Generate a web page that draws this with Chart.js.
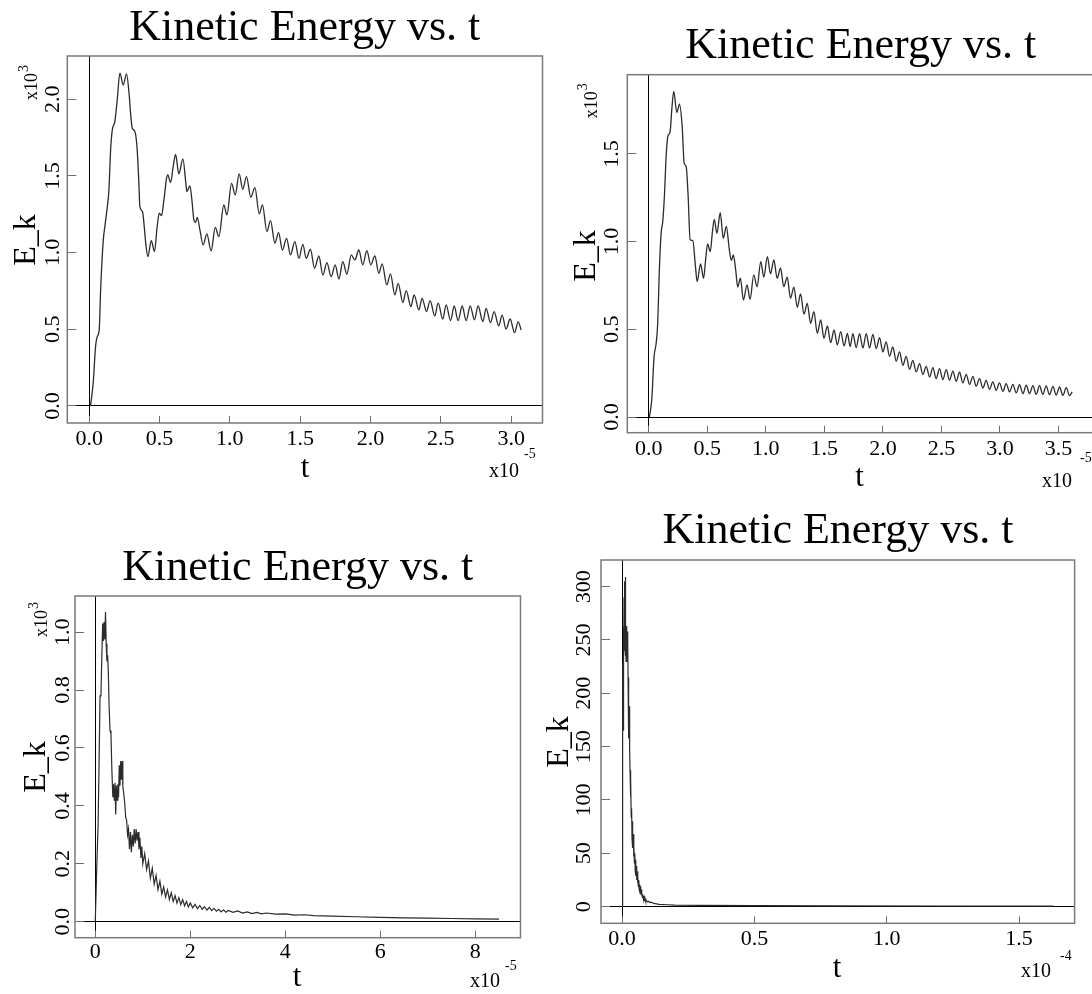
<!DOCTYPE html>
<html>
<head>
<meta charset="utf-8">
<script src="https://cdn.jsdelivr.net/npm/chart.js@4.4.1/dist/chart.umd.min.js"></script>
<style>
html, body { margin: 0; padding: 0; background: #fff; overflow: hidden; width: 1092px; height: 994px; }
canvas { position: absolute; }
</style>
</head>
<body>
<canvas id="c1" width="546" height="490" style="left:0px;top:0px"></canvas>
<canvas id="c2" width="554" height="490" style="left:546px;top:0px"></canvas>
<canvas id="c3" width="546" height="497" style="left:0px;top:497px"></canvas>
<canvas id="c4" width="546" height="497" style="left:546px;top:497px"></canvas>
<script>
// run 1: t in units of 1e-5, E_k in units of 1e3
var t1 = [
  0.009,0.028,0.045,0.057,0.071,0.081,0.100,0.111,0.123,0.140,
  0.152,0.164,0.182,0.199,0.218,0.242,0.265,0.284,0.296,0.306,
  0.325,0.341,0.353,0.360,0.379,0.391,0.403,0.417,0.441,0.464,
  0.483,0.498,0.514,0.531,0.550,0.559,0.578,0.597,0.614,0.637,
  0.666,0.687,0.694,0.716,0.730,0.744,0.756,0.768,0.787,0.810,
  0.836,0.867,0.896,0.922,0.957,0.979,1.012,1.038,1.066,1.092,
  1.118,1.149,1.178,1.209,1.232,1.263,1.289,1.320,1.346,1.374,
  1.403,1.431,1.462,1.491,1.519,1.543,1.573,1.602,1.633,1.661,
  1.690,1.720,1.749,1.775,1.803,1.832,1.863,1.889,1.917,1.945,
  1.974,2.002,2.031,2.059,2.083,2.116,2.142,2.173,2.197,2.230,
  2.254,2.287,2.310,2.344,2.367,2.398,2.424,2.457,2.481,2.514,
  2.538,2.569,2.595,2.623,2.652,2.680,2.709,2.739,2.765,2.799,
  2.822,2.853,2.879,2.912,2.936,2.964,2.993,3.024,3.050,3.071
];
var e1 = [
  0.000,0.148,0.387,0.452,0.496,0.757,1.083,1.170,1.257,1.409,
  1.670,1.800,1.854,1.996,2.170,2.093,2.165,2.028,1.887,1.811,
  1.789,1.670,1.452,1.300,1.267,1.170,1.050,0.974,1.078,1.007,
  1.170,1.257,1.241,1.343,1.485,1.507,1.457,1.561,1.641,1.513,
  1.611,1.452,1.398,1.435,1.343,1.213,1.196,1.230,1.148,1.050,
  1.122,1.011,1.165,1.104,1.311,1.246,1.452,1.376,1.513,1.413,
  1.496,1.361,1.424,1.252,1.311,1.137,1.209,1.061,1.130,1.017,
  1.093,0.985,1.072,0.963,1.054,0.963,1.022,0.898,0.978,0.854,
  0.935,0.843,0.920,0.828,0.941,0.859,0.985,0.952,1.017,0.920,
  1.013,0.920,0.978,0.865,0.926,0.789,0.861,0.724,0.800,0.674,
  0.752,0.648,0.724,0.626,0.702,0.615,0.687,0.587,0.670,0.567,
  0.659,0.557,0.652,0.557,0.652,0.557,0.652,0.561,0.652,0.550,
  0.637,0.543,0.615,0.522,0.593,0.502,0.567,0.478,0.548,0.496
];

// run 2
var t2 = [
  0.006,0.026,0.046,0.063,0.077,0.091,0.106,0.120,0.134,0.149,
  0.163,0.183,0.197,0.214,0.240,0.263,0.286,0.303,0.320,0.337,
  0.354,0.377,0.397,0.414,0.443,0.469,0.486,0.503,0.526,0.543,
  0.560,0.583,0.611,0.637,0.663,0.689,0.706,0.723,0.743,0.760,
  0.783,0.809,0.840,0.866,0.897,0.926,0.957,0.983,1.014,1.040,
  1.069,1.097,1.126,1.154,1.183,1.211,1.240,1.269,1.297,1.326,
  1.354,1.383,1.411,1.440,1.469,1.497,1.526,1.554,1.583,1.611,
  1.640,1.669,1.697,1.720,1.744,1.772,1.801,1.829,1.858,1.886,
  1.915,1.943,1.972,2.000,2.028,2.057,2.085,2.114,2.142,2.171,
  2.199,2.228,2.256,2.285,2.313,2.342,2.370,2.399,2.427,2.455,
  2.484,2.512,2.541,2.569,2.598,2.626,2.655,2.683,2.712,2.740,
  2.769,2.797,2.825,2.854,2.882,2.911,2.939,2.968,2.996,3.025,
  3.053,3.082,3.110,3.139,3.167,3.196,3.224,3.253,3.281,3.309,
  3.338,3.366,3.395,3.423,3.452,3.480,3.509,3.537,3.566,3.594,
  3.617
];
var e2 = [
  0.000,0.097,0.344,0.416,0.534,0.838,1.047,1.114,1.257,1.485,
  1.599,1.627,1.751,1.856,1.736,1.783,1.656,1.447,1.428,1.257,
  1.010,1.006,0.876,0.772,0.873,0.791,0.895,0.987,0.943,1.047,
  1.127,1.047,1.165,1.019,1.086,0.952,0.892,0.924,0.838,0.740,
  0.791,0.667,0.753,0.671,0.810,0.743,0.886,0.797,0.914,0.816,
  0.895,0.791,0.848,0.743,0.797,0.677,0.740,0.625,0.702,0.586,
  0.648,0.534,0.601,0.477,0.553,0.449,0.519,0.424,0.496,0.411,
  0.487,0.405,0.477,0.401,0.475,0.395,0.475,0.394,0.475,0.394,
  0.471,0.390,0.452,0.371,0.428,0.346,0.399,0.318,0.371,0.295,
  0.346,0.272,0.323,0.257,0.304,0.242,0.289,0.228,0.281,0.219,
  0.276,0.213,0.270,0.209,0.262,0.203,0.255,0.194,0.243,0.186,
  0.232,0.175,0.219,0.165,0.209,0.158,0.200,0.152,0.194,0.146,
  0.190,0.143,0.186,0.137,0.184,0.133,0.181,0.133,0.179,0.129,
  0.179,0.129,0.177,0.127,0.175,0.125,0.171,0.123,0.167,0.122,
  0.143
];

// run 3
var t3 = [
  0,0.03,0.06,0.08,0.10,0.12,0.14,0.155,0.17,0.185,
  0.20,0.215,0.23,0.245,0.26,0.275,0.29,0.31,0.33,0.35,
  0.37,0.385,0.40,0.415,0.43,0.445,0.46,0.475,0.49,0.505,
  0.52,0.535,0.55,0.565,0.58,0.60,0.62,0.64,0.66,0.68,
  0.70,0.72,0.74,0.76,0.78,0.80,0.82,0.84,0.86,0.88,
  0.90,0.92,0.94,0.96,0.98,1.00,1.04,1.08,1.12,1.16,
  1.20,1.24,1.28,1.32,1.36,1.40,1.44,1.48,1.52,1.56,
  1.60,1.64,1.68,1.72,1.76,1.80,1.84,1.88,1.92,1.96,
  2.00,2.05,2.10,2.15,2.20,2.25,2.30,2.35,2.40,2.45,
  2.50,2.55,2.60,2.65,2.70,2.75,2.80,2.90,3.00,3.10,
  3.20,3.30,3.40,3.50,3.60,3.80,4.00,4.20,4.40,4.60,
  5.00,5.50,6.00,6.50,7.00,7.50,8.00,8.50
];
var e3 = [
  0,0.18,0.34,0.55,0.78,0.79,0.93,1.03,0.97,1.035,
  0.975,1.07,0.96,0.90,0.92,0.86,0.75,0.66,0.65,0.52,
  0.43,0.475,0.42,0.48,0.37,0.47,0.42,0.475,0.43,0.54,
  0.47,0.555,0.49,0.555,0.47,0.44,0.41,0.36,0.35,0.30,
  0.32,0.25,0.31,0.24,0.30,0.26,0.32,0.27,0.32,0.28,
  0.31,0.25,0.29,0.22,0.26,0.20,0.235,0.18,0.21,0.15,
  0.185,0.13,0.16,0.11,0.14,0.095,0.12,0.085,0.11,0.077,
  0.10,0.07,0.09,0.064,0.083,0.059,0.076,0.055,0.07,0.051,
  0.065,0.048,0.06,0.045,0.056,0.043,0.052,0.04,0.049,0.038,
  0.046,0.036,0.043,0.034,0.041,0.033,0.039,0.032,0.037,0.03,
  0.034,0.028,0.032,0.027,0.03,0.026,0.027,0.023,0.024,0.021,
  0.019,0.017,0.015,0.013,0.012,0.011,0.010,0.009
];

// run 4: t in units of 1e-4, E_k plain
var t4 = [
  0,0.0010,0.0015,0.0020,0.0025,0.0030,0.0035,0.0040,0.0045,0.0050,
  0.0055,0.0060,0.0065,0.0070,0.0075,0.0080,0.0085,0.0090,0.0095,0.0100,
  0.0105,0.0110,0.0115,0.0120,0.0125,0.0130,0.0135,0.0140,0.0145,0.0150,
  0.0165,0.0180,0.0195,0.0210,0.0225,0.0240,0.0255,0.0270,0.0285,0.0300,
  0.0315,0.0330,0.0345,0.0360,0.0375,0.0390,0.0405,0.0420,0.0435,0.0450,
  0.0465,0.0480,0.0495,0.0510,0.0525,0.0540,0.0555,0.0570,0.0585,0.0600,
  0.0615,0.0630,0.0645,0.0660,0.0675,0.0690,0.0705,0.0720,0.0735,0.0750,
  0.0765,0.0780,0.0795,0.0810,0.0825,0.0840,0.0855,0.0870,0.0885,0.0900,
  0.0950,0.1000,0.1050,0.1100,0.1200,0.1400,0.1700,0.2000,0.3000,0.5000,
  0.8000,1.2000,1.6300
];
var e4 = [
  0,165,225,170,228,175,230,165,225,180,
  232,200,262,230,290,255,300,250,298,240,
  305,245,309,250,300,240,295,235,265,230,
  232,263,235,258,215,200,158,188,148,128,
  103,120,84,92,64,80,55,68,47,58,
  41,50,34,44,29,38,25,33,22,28,
  19,25,16,21,14,19,12,16,10.5,13,
  9,11.5,7.5,10,6.5,8.5,5.5,7.5,5,6.5,
  4.5,5,3.8,4.2,3,2.2,1.8,1.5,1.2,1.0,
  0.8,0.6,0.5
];

var titleText = 'Kinetic Energy vs. t';
var yTitleText = 'E_k';
var xTitleText = 't';
var SERIF = '"Liberation Serif", "Times New Roman", serif';

function pts(t, e) {
  return t.map(function (v, i) { return { x: v, y: e[i] }; });
}

function fmt1(v) { return v.toFixed(1); }
function fmt0(v) { return String(Math.round(v)); }

// frame + R-style annotation text
var rText = {
  id: 'rText',
  afterDraw: function (chart, args, o) {
    var ctx = chart.ctx, a = chart.chartArea;
    ctx.save();
    ctx.strokeStyle = '#7a7a7a';
    ctx.lineWidth = 1.5;
    ctx.strokeRect(a.left, a.top, a.right - a.left, a.bottom - a.top);

    ctx.fillStyle = '#000';
    ctx.textBaseline = 'alphabetic';
    ctx.textAlign = 'center';
    ctx.font = '44px ' + SERIF;
    ctx.fillText(titleText, o.title[0], o.title[1]);

    ctx.font = '31px ' + SERIF;
    ctx.fillText(xTitleText, o.xTitle[0], o.xTitle[1]);

    ctx.save();
    ctx.translate(o.yTitle[0], o.yTitle[1]);
    ctx.rotate(-Math.PI / 2);
    ctx.font = '32px ' + SERIF;
    ctx.fillText(yTitleText, 0, 0);
    ctx.restore();

    ctx.textAlign = 'left';
    ctx.font = '20px ' + SERIF;
    ctx.fillText('x10', o.xExp[0], o.xExp[1]);
    ctx.font = '14px ' + SERIF;
    ctx.fillText(o.xExp[2], o.xExp[3], o.xExp[4]);

    if (o.yExp) {
      ctx.save();
      ctx.translate(o.yExp[0], o.yExp[1]);
      ctx.rotate(-Math.PI / 2);
      ctx.font = '18px ' + SERIF;
      ctx.fillText('x10', 0, 0);
      var w = ctx.measureText('x10').width;
      ctx.font = '14px ' + SERIF;
      ctx.fillText(o.yExp[2], w + 1, -o.yExp[3]);
      ctx.restore();
    }
    ctx.restore();
  }
};

function zeroLine(c) {
  return c.tick && c.tick.value === 0 ? '#000' : 'rgba(0,0,0,0)';
}

function makeChart(id, p) {
  var tickFont = { family: SERIF, size: 22 };
  return new Chart(document.getElementById(id), {
    type: 'line',
    data: {
      datasets: [{
        data: p.data,
        borderColor: '#2b2b2b',
        borderWidth: p.lw,
        pointRadius: 0,
        fill: false,
        cubicInterpolationMode: p.smooth ? 'monotone' : 'default',
        tension: 0
      }]
    },
    options: {
      responsive: false,
      animation: false,
      devicePixelRatio: 1,
      layout: { padding: { left: 0, top: p.area[1], right: p.w - p.area[2], bottom: 0 } },
      plugins: {
        legend: { display: false },
        tooltip: { enabled: false },
        title: { display: false },
        rText: p.text
      },
      scales: {
        x: {
          type: 'linear',
          min: p.x[0], max: p.x[1],
          border: { display: false },
          grid: { color: zeroLine, tickColor: '#6e6e6e', tickLength: -7, lineWidth: 1 },
          ticks: {
            stepSize: p.x[2], includeBounds: false, autoSkip: false,
            maxRotation: 0, minRotation: 0, padding: p.xPad,
            font: tickFont, color: '#000', callback: p.xFmt
          },
          afterFit: function (s) { s.height = p.h - p.area[3]; }
        },
        y: {
          type: 'linear',
          min: p.y[0], max: p.y[1],
          border: { display: false },
          grid: { color: zeroLine, tickColor: '#6e6e6e', tickLength: -9, lineWidth: 1 },
          ticks: {
            stepSize: p.y[2], includeBounds: false, autoSkip: false,
            minRotation: 90, maxRotation: 90, crossAlign: 'center', padding: p.yPad,
            font: tickFont, color: '#000', callback: p.yFmt
          },
          afterFit: function (s) { s.width = p.area[0]; }
        }
      }
    },
    plugins: [rText]
  });
}

makeChart('c1', {
  data: pts(t1, e1), smooth: true, lw: 1.3, w: 546, h: 490,
  area: [67.3, 56, 542.5, 423],
  x: [-0.156, 3.223, 0.5], y: [-0.111, 2.282, 0.5],
  xFmt: fmt1, yFmt: fmt1, xPad: 9.8, yPad: 9,
  text: { title: [304.7, 40], xTitle: [305, 477], yTitle: [34.8, 240],
          xExp: [489, 477, '-5', 524, 458], yExp: [36.6, 100, '3', 9] }
});

makeChart('c2', {
  data: pts(t2, e2), smooth: true, lw: 1.3, w: 554, h: 490,
  area: [81.3, 74.7, 548, 432.7],
  x: [-0.1827, 3.803, 0.5], y: [-0.0895, 1.9515, 0.5],
  xFmt: fmt1, yFmt: fmt1, xPad: 10, yPad: 10.3,
  text: { title: [314.7, 58.3], xTitle: [313.5, 486], yTitle: [48.7, 256],
          xExp: [496, 487, '-5', 534, 462], yExp: [50.5, 118.3, '3', 9.5] }
});

makeChart('c3', {
  data: pts(t3, e3), smooth: false, lw: 1.2, w: 546, h: 497,
  area: [75, 99, 520.5, 440.7],
  x: [-0.427, 8.952, 2], y: [-0.0553, 1.125, 0.2],
  xFmt: fmt0, yFmt: fmt1, xPad: 8.8, yPad: 7.5,
  text: { title: [297.7, 83], xTitle: [297, 489], yTitle: [45.3, 270],
          xExp: [470, 490, '-5', 505, 473], yExp: [47, 140, '3', 9.4] }
});

makeChart('c4', {
  data: pts(t4, e4), smooth: false, lw: 1.2, w: 546, h: 497,
  area: [55, 63, 528.6, 426.3],
  x: [-0.0797, 1.710, 0.5], y: [-15.6, 325, 50],
  xFmt: fmt1, yFmt: fmt0, xPad: 9.8, yPad: 9.5,
  text: { title: [292, 46.3], xTitle: [291, 479.7], yTitle: [21.6, 245],
          xExp: [475, 479.7, '-4', 514, 463], yExp: null }
});
</script>
</body>
</html>
